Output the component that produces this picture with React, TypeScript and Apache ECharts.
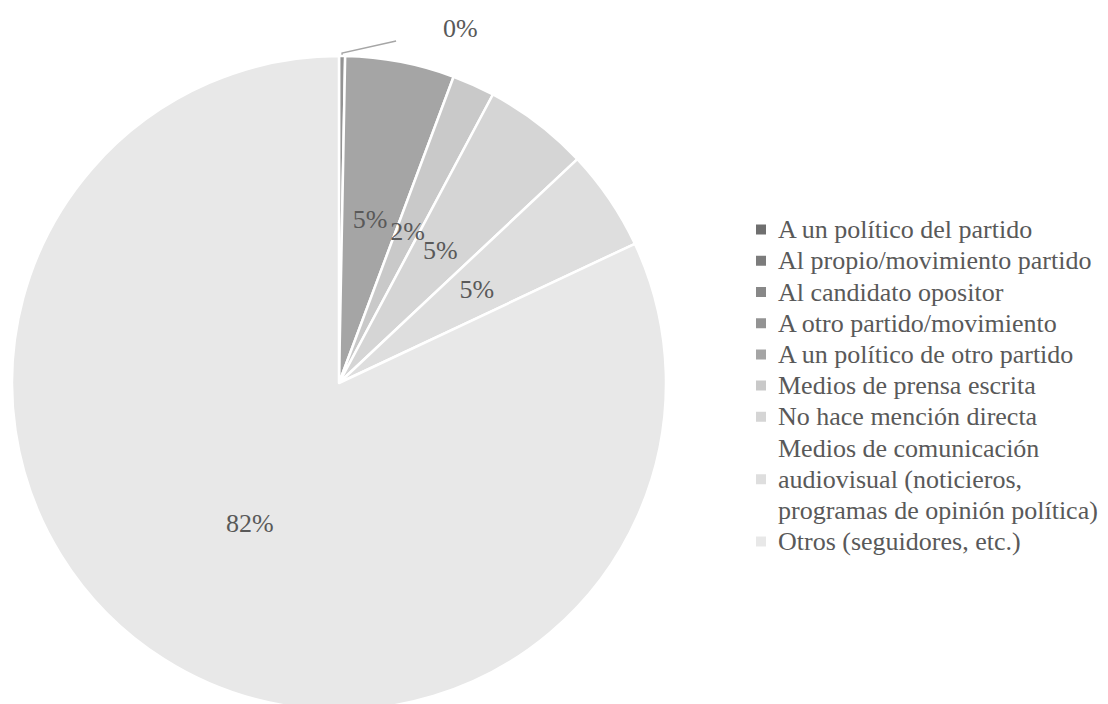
import React, { useEffect, useRef } from "react";
import * as echarts from "echarts";

const categories: string[] = [
  "A un político del partido",
  "Al propio/movimiento partido",
  "Al candidato opositor",
  "A otro partido/movimiento",
  "A un político de otro partido",
  "Medios de prensa escrita",
  "No hace mención directa",
  "Medios de comunicación\naudiovisual (noticieros,\nprogramas de opinión política)",
  "Otros (seguidores, etc.)",
];
// shares in percent
const shares: number[] = [0, 0, 0, 0.3, 5.4, 2.1, 5.2, 5.0, 82.0];
const colors: string[] = [
  "#6f6f6f",
  "#7c7c7c",
  "#888888",
  "#939393",
  "#a5a5a5",
  "#c9c9c9",
  "#d5d5d5",
  "#dedede",
  "#e8e8e8",
];
// the slice that carries the outside "0%" label with a leader line
const outsideLabelIndex = 3;

const PIE_R = 327;
const FONT = "Liberation Serif";
const TEXT_COLOR = "#595959";

export default function App() {
  const ref = useRef<HTMLDivElement>(null);
  useEffect(() => {
    if (!ref.current) return;
    const chart = echarts.init(ref.current, undefined, { renderer: "svg" });
    const data = categories.map((name, i) => {
      const item: any = {
        name,
        value: shares[i],
        itemStyle: { color: colors[i] },
      };
      if (i === outsideLabelIndex) {
        item.label = { show: true, position: "outside" };
        item.labelLine = {
          show: true,
          length: 4,
          length2: 40,
          lineStyle: { color: "#a6a6a6", width: 1.5 },
        };
      } else if (shares[i] === 0) {
        item.label = { show: false };
        item.labelLine = { show: false };
      }
      return item;
    });
    chart.setOption({
      animation: false,
      backgroundColor: "#ffffff",
      textStyle: { fontFamily: FONT },
      legend: {
        orient: "vertical",
        left: 754,
        top: 214,
        padding: 0,
        itemGap: 0,
        itemWidth: 12,
        itemHeight: 12,
        icon: "rect",
        data: categories,
        textStyle: {
          fontFamily: FONT,
          fontSize: 26,
          color: TEXT_COLOR,
          lineHeight: 31.2,
          padding: [0, 0, 0, 6],
        },
      },
      series: [
        {
          type: "pie",
          center: [339, 383],
          radius: [0, PIE_R],
          startAngle: 90,
          clockwise: true,
          avoidLabelOverlap: false,
          data,
          itemStyle: { borderColor: "#ffffff", borderWidth: 2.5 },
          label: {
            show: true,
            position: "inside",
            fontFamily: FONT,
            fontSize: 26,
            color: TEXT_COLOR,
            formatter: (p: any) => Math.round(p.percent) + "%",
          },
          labelLine: { show: false },
          labelLayout: (params: any) => {
            if (params.dataIndex !== outsideLabelIndex || !params.labelLinePoints) return {};
            const p0 = params.labelLinePoints[0];
            return {
              x: p0[0] + 101,
              y: p0[1] - 28,
              align: "left",
              verticalAlign: "middle",
              labelLinePoints: [
                [p0[0], p0[1] + 1],
                [p0[0], p0[1] - 3],
                [p0[0] + 54, p0[1] - 15],
              ],
            };
          },
          emphasis: { disabled: true },
        },
      ],
    });
    return () => chart.dispose();
  }, []);
  return (
    <div
      ref={ref}
      style={{ position: "fixed", left: 0, top: 0, width: 1108, height: 704 }}
    />
  );
}
